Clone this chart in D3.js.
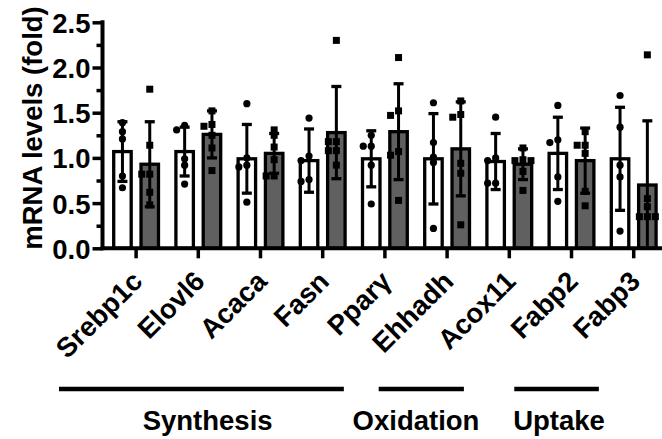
<!DOCTYPE html>
<html>
<head>
<meta charset="utf-8">
<script src="https://cdn.jsdelivr.net/npm/d3@7"></script>
<style>
  body { margin: 0; background: #fff; }
  svg text { font-family: Arial, "Liberation Sans", sans-serif; font-weight: bold; fill: #000; }
</style>
</head>
<body>
<div id="area"></div>
<script>
// genes on the x axis
var categories = ["Srebp1c", "Elovl6", "Acaca", "Fasn", "Pparγ", "Ehhadh", "Acox11", "Fabp2", "Fabp3"];
var series = ["ctrl", "ko"];

// bar heights (mean) and error bars (SD)
var ctrlMean = [1.07, 1.07, 0.99, 0.97, 0.99, 0.99, 0.96, 1.05, 0.99];
var ctrlSd   = [0.33, 0.27, 0.38, 0.35, 0.31, 0.50, 0.31, 0.40, 0.57];
var koMean   = [0.93, 1.26, 1.05, 1.28, 1.29, 1.10, 0.93, 0.97, 0.70];
var koSd     = [0.47, 0.26, 0.22, 0.51, 0.53, 0.52, 0.17, 0.36, 0.71];

// individual points
var ctrlPoints = [
  [1.39, 1.29, 1.21, 0.80, 0.67],
  [1.36, 1.31, 0.99, 0.92, 0.71],
  [1.60, 1.00, 0.92, 0.90, 0.51],
  [1.44, 1.02, 0.97, 0.76, 0.74],
  [1.25, 1.13, 1.13, 0.92, 0.49],
  [1.61, 1.17, 1.01, 0.95, 0.22],
  [1.45, 1.00, 0.97, 0.72, 0.72],
  [1.58, 1.20, 1.17, 0.79, 0.52],
  [1.69, 1.34, 0.92, 0.79, 0.19]
];
var koPoints = [
  [1.76, 1.14, 0.82, 0.82, 0.62, 0.48],
  [1.52, 1.37, 1.35, 1.25, 1.11, 0.86],
  [1.31, 1.25, 1.12, 0.98, 0.80, 0.80],
  [2.30, 1.18, 1.18, 1.08, 1.08, 0.92],
  [2.11, 1.52, 1.47, 1.07, 1.03, 0.53],
  [1.63, 1.48, 1.45, 0.94, 0.83, 0.26],
  [1.11, 0.98, 0.97, 0.97, 0.85, 0.64],
  [1.29, 1.14, 1.14, 1.05, 0.63, 0.47],
  [2.14, 0.55, 0.46, 0.35, 0.35, 0.35]
];

var yTicks = [0, 0.5, 1.0, 1.5, 2.0, 2.5];
var yMinorTicks = [0.25, 0.75, 1.25, 1.75, 2.25];

// pathway groups under the gene names
var groupNames = ["Synthesis", "Oxidation", "Uptake"];
// span of each underline, in category-position units (layout only)
var groupSpans = [[-1.24, 3.34], [3.9, 5.27], [6.08, 7.44]];
var groupTextPos = [1.15, 4.5, 6.8];

var width = 662, height = 439;
var fontSize = 27.5;
var svg = d3.select('#area').append('svg')
            .attr('width', width)
            .attr('height', height);

var y = d3.scaleLinear()
          .domain([0, 2.5])
          .range([248.3, 22.3]);

var x0 = d3.scaleBand()
           .domain(categories)
           .range([105, 105 + 9 * 62.2])
           .paddingInner(0.28)
           .paddingOuter(0.14);

var x1 = d3.scaleBand()
           .domain(series)
           .range([0, x0.bandwidth()])
           .paddingInner(0.36);

// category index -> tick center, for the group underlines
var xIdx = d3.scaleLinear()
             .domain([0, 1])
             .range([x0(categories[0]) + x0.bandwidth() / 2, x0(categories[1]) + x0.bandwidth() / 2]);

var color = d3.scaleOrdinal()
              .domain(series)
              .range(["#ffffff", "#606060"]);

var rows = categories.map(function(c, i) {
  return {
    cat: c,
    vals: [
      {key: "ctrl", mean: ctrlMean[i], sd: ctrlSd[i], pts: ctrlPoints[i]},
      {key: "ko", mean: koMean[i], sd: koSd[i], pts: koPoints[i]}
    ]
  };
});

var g = svg.append('g');

var groups = g.selectAll('.grp')
              .data(rows)
              .enter().append('g')
              .attr('class', 'grp')
              .attr('transform', function(d) { return 'translate(' + x0(d.cat) + ',0)'; });

var bars = groups.selectAll('.bar')
                 .data(function(d) { return d.vals; })
                 .enter().append('g')
                 .attr('class', 'bar');

bars.append('rect')
    .attr('x', function(d) { return x1(d.key); })
    .attr('width', x1.bandwidth())
    .attr('y', function(d) { return y(d.mean); })
    .attr('height', function(d) { return y(0) - y(d.mean); })
    .attr('fill', function(d) { return color(d.key); })
    .attr('stroke', '#000')
    .attr('stroke-width', 3.3);

// error bars
var capW = 10;
bars.each(function(d) {
  var sel = d3.select(this);
  var cx = x1(d.key) + x1.bandwidth() / 2;
  var hi = d.mean + d.sd, lo = Math.max(0, d.mean - d.sd);
  sel.append('line')
     .attr('x1', cx).attr('x2', cx)
     .attr('y1', y(hi)).attr('y2', y(lo))
     .attr('stroke', '#000').attr('stroke-width', 3);
  sel.append('line')
     .attr('x1', cx - capW / 2).attr('x2', cx + capW / 2)
     .attr('y1', y(hi)).attr('y2', y(hi))
     .attr('stroke', '#000').attr('stroke-width', 3.3);
  if (d.mean - d.sd > 0) {
    sel.append('line')
       .attr('x1', cx - capW / 2).attr('x2', cx + capW / 2)
       .attr('y1', y(lo)).attr('y2', y(lo))
       .attr('stroke', '#000').attr('stroke-width', 3.3);
  }

  // scatter points, spread sideways only when they would overlap
  var placed = [];
  var offsets = [0, -8, 8, -16, 16];
  d.pts.forEach(function(v) {
    var py = y(v), ox = 0;
    for (var k = 0; k < offsets.length; k++) {
      var clash = placed.some(function(p) {
        var dx = p[0] - offsets[k], dy = p[1] - py;
        return Math.sqrt(dx * dx + dy * dy) < 5;
      });
      if (!clash) { ox = offsets[k]; break; }
    }
    placed.push([ox, py]);
    if (d.key === 'ctrl') {
      sel.append('circle')
         .attr('cx', cx + ox).attr('cy', py).attr('r', 3.6)
         .attr('fill', '#000');
    } else {
      sel.append('rect')
         .attr('x', cx + ox - 3.5).attr('y', py - 3.5)
         .attr('width', 7).attr('height', 7)
         .attr('fill', '#000');
    }
  });
});

// y axis
var yAxis = d3.axisLeft(y)
              .tickValues(yTicks)
              .tickSize(8)
              .tickSizeOuter(0)
              .tickPadding(4)
              .tickFormat(d3.format('.1f'));
var yAxisMinor = d3.axisLeft(y)
                   .tickValues(yMinorTicks)
                   .tickSize(4)
                   .tickSizeOuter(0)
                   .tickFormat('');

var axisX = 102.5;
var gy = svg.append('g')
            .attr('transform', 'translate(' + axisX + ',0)')
            .call(yAxis);
gy.select('.domain').remove();
gy.selectAll('.tick line').attr('stroke', '#000').attr('stroke-width', 3.5).attr('x2', -10);
gy.selectAll('.tick text')
  .attr('font-size', fontSize)
  .attr('x', -12)
  .attr('dy', '0.36em')
  .style('font-family', 'Arial, "Liberation Sans", sans-serif')
  .style('font-weight', 'bold');

var gyMinor = svg.append('g')
                 .attr('transform', 'translate(' + axisX + ',0)')
                 .call(yAxisMinor);
gyMinor.select('.domain').remove();
gyMinor.selectAll('.tick line').attr('stroke', '#000').attr('stroke-width', 3.5).attr('x2', -6);

svg.append('line')
   .attr('x1', axisX).attr('x2', axisX)
   .attr('y1', y(2.5) - 2).attr('y2', y(0) + 2)
   .attr('stroke', '#000').attr('stroke-width', 4);

// x axis
var xAxis = d3.axisBottom(x0)
              .tickSize(8)
              .tickSizeOuter(0)
              .tickFormat('');
var gx = svg.append('g')
            .attr('transform', 'translate(0,' + y(0) + ')')
            .call(xAxis);
gx.select('.domain').remove();
gx.selectAll('.tick line').attr('stroke', '#000').attr('stroke-width', 3.5).attr('y1', 0).attr('y2', 10);

svg.append('line')
   .attr('x1', axisX - 2).attr('x2', width)
   .attr('y1', y(0)).attr('y2', y(0))
   .attr('stroke', '#000').attr('stroke-width', 4);

// rotated gene labels
svg.selectAll('.catLabel')
   .data(categories)
   .enter().append('text')
   .attr('class', 'catLabel')
   .attr('font-size', fontSize)
   .attr('text-anchor', 'end')
   .attr('transform', function(d) {
     return 'translate(' + (x0(d) + x0.bandwidth() / 2 + 8) + ',283) rotate(-45)';
   })
   .text(function(d) { return d; });

// y axis title
svg.append('text')
   .attr('font-size', fontSize)
   .attr('text-anchor', 'middle')
   .attr('transform', 'translate(42,128) rotate(-90)')
   .text('mRNA levels (fold)');

// pathway groups
svg.selectAll('.grpLine')
   .data(groupSpans)
   .enter().append('line')
   .attr('class', 'grpLine')
   .attr('x1', function(d) { return xIdx(d[0]); })
   .attr('x2', function(d) { return xIdx(d[1]); })
   .attr('y1', 389).attr('y2', 389)
   .attr('stroke', '#000').attr('stroke-width', 4.5);

svg.selectAll('.grpText')
   .data(groupNames)
   .enter().append('text')
   .attr('class', 'grpText')
   .attr('font-size', fontSize)
   .attr('text-anchor', 'middle')
   .attr('x', function(d, i) { return xIdx(groupTextPos[i]); })
   .attr('y', 430)
   .text(function(d) { return d; });
</script>
</body>
</html>
